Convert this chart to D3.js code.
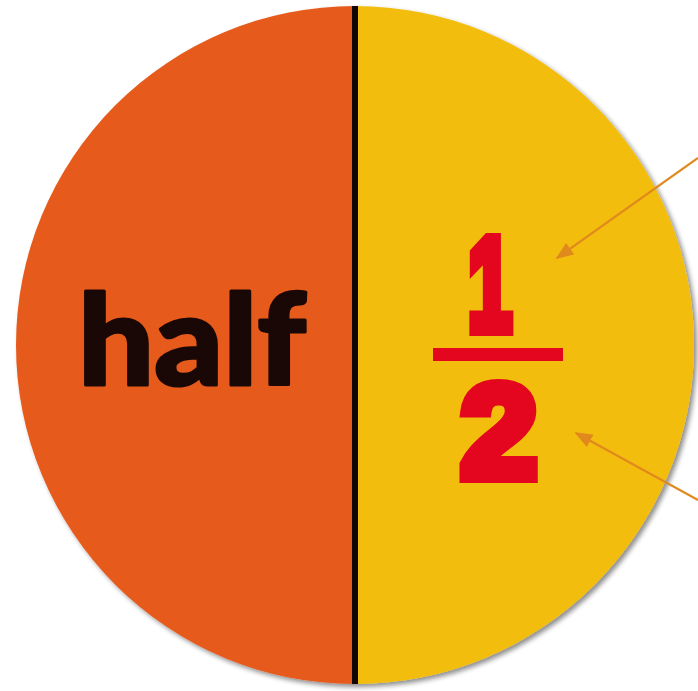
<!DOCTYPE html>
<html>
<head>
<meta charset="utf-8">
<script src="https://cdn.jsdelivr.net/npm/d3@7"></script>
<style>
  html, body { margin: 0; padding: 0; background: #ffffff; }
  svg { display: block; }
</style>
</head>
<body>
<svg id="chart" width="698" height="691"></svg>
<script>
// ---- data ----
const categories = ["1/2", "half"];
const values = [1, 1];
const sliceColors = ["#F3BD0C", "#E65A1C"];
const leftLabel = "half";
const numerator = "1";
const denominator = "2";

// ---- layout ----
const cx = 355, cy = 345, R = 339;
const svg = d3.select("#chart");

const defs = svg.append("defs");
const f = defs.append("filter").attr("id", "shadow")
  .attr("x", "-10%").attr("y", "-10%").attr("width", "120%").attr("height", "120%");
f.append("feGaussianBlur").attr("in", "SourceAlpha").attr("stdDeviation", 2.5).attr("result", "b");
f.append("feOffset").attr("in", "b").attr("dx", 3).attr("dy", 3).attr("result", "o");
f.append("feComponentTransfer").attr("in", "o").attr("result", "o2")
  .append("feFuncA").attr("type", "linear").attr("slope", 0.45);
const fm = f.append("feMerge");
fm.append("feMergeNode").attr("in", "o2");
fm.append("feMergeNode").attr("in", "SourceGraphic");

const arrowColor = "#E0891D";
const marker = defs.append("marker").attr("id", "arrow")
  .attr("viewBox", "0 0 10 10").attr("refX", 9).attr("refY", 5)
  .attr("markerWidth", 18).attr("markerHeight", 14)
  .attr("preserveAspectRatio", "none")
  .attr("markerUnits", "userSpaceOnUse")
  .attr("orient", "auto");
marker.append("path").attr("d", "M0,0 L10,5 L0,10 Z").attr("fill", arrowColor);

const pie = d3.pie().sort(null).startAngle(0).endAngle(2 * Math.PI);
const arcs = pie(values);
const arc = d3.arc().innerRadius(0).outerRadius(R);

const g = svg.append("g").attr("transform", `translate(${cx},${cy})`);
const pieG = g.append("g").attr("filter", "url(#shadow)");
pieG.selectAll("path.slice").data(arcs).join("path")
  .attr("class", "slice")
  .attr("d", arc)
  .attr("fill", (d, i) => sliceColors[i]);

// divider line
g.append("line")
  .attr("x1", 0).attr("x2", 0).attr("y1", -R).attr("y2", R)
  .attr("stroke", "#120604").attr("stroke-width", 6);

// left label "half"
const ink = "#1A0806";
svg.append("text")
  .attr("x", 78).attr("y", 385)
  .attr("textLength", 228).attr("lengthAdjust", "spacingAndGlyphs")
  .attr("font-family", "Lato, 'DejaVu Sans', sans-serif")
  .attr("font-weight", 900)
  .attr("font-size", 126)
  .attr("fill", ink)
  .attr("stroke", ink).attr("stroke-width", 3).attr("stroke-linejoin", "round")
  .text(leftLabel);

// fraction
const red = "#E3061E";
const fracFont = "'Liberation Sans', Arial, sans-serif";
svg.append("text")
  .attr("x", 468).attr("y", 330)
  .attr("textLength", 44).attr("lengthAdjust", "spacingAndGlyphs")
  .attr("font-family", fracFont)
  .attr("font-weight", 700)
  .attr("font-size", 131)
  .attr("fill", red)
  .attr("stroke", red).attr("stroke-width", 12).attr("stroke-linejoin", "miter")
  .text(numerator);
svg.append("rect")
  .attr("x", 433).attr("y", 348).attr("width", 130).attr("height", 13)
  .attr("fill", red);
svg.append("text")
  .attr("x", 461).attr("y", 477)
  .attr("textLength", 76).attr("lengthAdjust", "spacingAndGlyphs")
  .attr("font-family", fracFont)
  .attr("font-weight", 700)
  .attr("font-size", 131)
  .attr("fill", red)
  .attr("stroke", red).attr("stroke-width", 12).attr("stroke-linejoin", "miter")
  .text(denominator);

// arrows
const arrows = [
  {x1: 698, y1: 158, x2: 557, y2: 258},
  {x1: 698, y1: 500, x2: 576, y2: 433}
];
svg.selectAll("line.arrow").data(arrows).join("line")
  .attr("class", "arrow")
  .attr("x1", d => d.x1).attr("y1", d => d.y1)
  .attr("x2", d => d.x2).attr("y2", d => d.y2)
  .attr("stroke", arrowColor).attr("stroke-width", 2.2)
  .attr("marker-end", "url(#arrow)");
</script>
</body>
</html>
